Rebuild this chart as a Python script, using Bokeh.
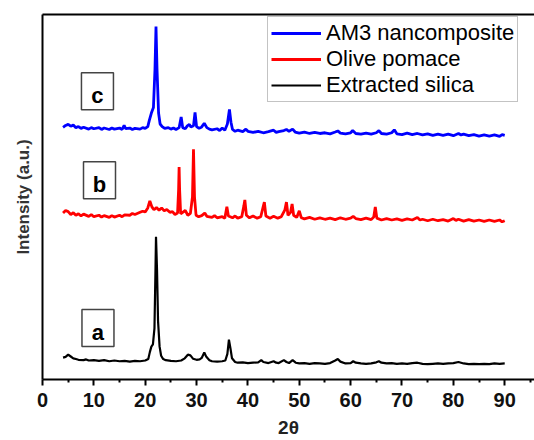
from bokeh.plotting import figure
from bokeh.models import Range1d, LinearAxis, FixedTicker, Legend, LegendItem, ColumnDataSource
from bokeh.core.properties import value
from bokeh.embed import file_html
from bokeh.resources import INLINE

# ---- data ----
silica_x = [4.0, 4.5, 5.0, 5.5, 6.0, 6.5, 7.0, 8.0, 8.5, 9.0, 10.0, 11.0, 12.0, 13.0, 14.0, 15.0, 16.0, 17.0,
            18.0, 19.0, 20.0, 20.6, 20.9, 21.2, 21.5, 21.8, 22.0, 22.1, 22.3, 22.5, 22.8, 23.1, 23.5, 24.0,
            25.0, 26.0, 27.0, 27.7, 28.3, 28.8, 29.3, 30.0, 30.6, 31.0, 31.5, 31.9, 32.5, 33.0, 34.0, 35.0,
            35.6, 36.0, 36.3, 36.6, 36.9, 37.5, 38.0, 39.0, 40.0, 41.0, 42.0, 42.6, 43.0, 44.0, 45.0, 45.5,
            46.0, 47.0, 47.5, 48.0, 48.7, 49.3, 50.0, 51.0, 52.0, 53.0, 54.0, 55.0, 56.0, 57.0, 57.5, 58.0,
            59.0, 60.0, 60.5, 61.0, 62.0, 63.0, 64.0, 65.0, 65.5, 66.0, 67.0, 68.0, 69.0, 70.0, 71.0, 72.0,
            73.0, 74.0, 75.0, 76.0, 77.0, 78.0, 79.0, 80.0, 81.0, 82.0, 83.0, 84.0, 85.0, 86.0, 87.0, 88.0,
            89.0, 90.0]
silica_y = [6.0, 6.2, 6.8, 6.3, 5.8, 5.6, 5.4, 5.3, 5.5, 5.2, 5.3, 5.1, 5.3, 5.0, 5.2, 5.0, 5.1, 4.9,
            5.1, 5.0, 5.2, 5.6, 7.5, 9.0, 9.6, 14.0, 30.0, 39.1, 30.0, 16.0, 9.0, 6.5, 5.6, 5.3,
            5.1, 5.0, 5.2, 5.8, 6.8, 6.6, 5.7, 5.4, 5.5, 5.9, 7.4, 6.2, 5.3, 5.0, 4.9, 5.0,
            5.2, 7.0, 10.9, 8.5, 5.8, 4.8, 4.6, 4.7, 4.5, 4.6, 4.7, 5.3, 4.8, 4.5, 5.0, 4.6,
            4.5, 5.3, 4.8, 4.5, 5.3, 4.6, 4.4, 4.5, 4.3, 4.5, 4.4, 4.3, 4.5, 5.2, 5.6, 4.9,
            4.4, 4.5, 5.0, 4.6, 4.4, 4.3, 4.4, 4.7, 5.0, 4.6, 4.4, 4.5, 4.3, 4.4, 4.3, 4.5,
            4.6, 4.3, 4.2, 4.3, 4.4, 4.3, 4.4, 4.5, 4.8, 4.4, 4.2, 4.3, 4.2, 4.3, 4.2, 4.4,
            4.3, 4.4]

olive_x = [4.0, 4.5, 5.0, 5.5, 6.0, 6.5, 7.0, 7.5, 8.0, 9.0, 9.5, 10.0, 11.0, 11.5, 12.0, 13.0, 13.5, 14.0,
           15.0, 15.5, 16.0, 17.0, 17.5, 18.0, 19.0, 19.5, 20.0, 20.5, 20.9, 21.3, 21.7, 22.2, 22.7, 23.2,
           23.7, 24.2, 24.8, 25.3, 25.8, 26.3, 26.5, 26.6, 26.7, 26.9, 27.3, 27.8, 28.3, 28.8, 29.2, 29.4,
           29.6, 29.9, 30.4, 31.0, 31.6, 32.0, 33.0, 33.5, 34.0, 35.0, 35.5, 35.9, 36.2, 37.0, 37.5, 38.0,
           38.8, 39.2, 39.4, 39.7, 40.3, 41.0, 41.8, 42.5, 43.0, 43.2, 43.5, 44.3, 45.0, 45.8, 46.5, 47.2,
           47.5, 47.8, 48.3, 48.6, 48.9, 49.5, 50.0, 50.4, 51.0, 52.0, 53.0, 54.0, 55.0, 56.0, 57.0, 58.0,
           59.0, 60.0, 60.5, 61.0, 62.0, 63.0, 64.0, 64.5, 64.8, 65.1, 66.0, 67.0, 68.0, 69.0, 70.0, 71.0,
           72.0, 73.0, 73.5, 74.0, 75.0, 76.0, 77.0, 78.0, 79.0, 80.0, 80.5, 81.0, 82.0, 83.0, 84.0, 85.0,
           86.0, 87.0, 88.0, 89.0, 89.5, 90.0]
olive_y = [45.6, 46.3, 46.0, 45.2, 45.7, 45.0, 45.4, 44.8, 45.3, 44.7, 45.2, 44.6, 45.0, 44.5, 44.9, 44.4, 44.9, 44.5,
           45.0, 44.6, 45.1, 45.0, 45.5, 45.2, 45.8, 46.1, 45.9, 47.0, 48.9, 47.3, 46.5, 47.1, 46.4, 47.0,
           46.2, 46.6, 45.8, 46.0, 45.2, 45.6, 52.0, 58.2, 52.0, 45.4, 45.8, 46.3, 45.0, 45.5, 50.0, 63.1,
           50.0, 45.0, 44.6, 44.9, 45.6, 44.7, 44.4, 44.9, 44.3, 44.6, 44.2, 47.3, 44.8, 44.3, 44.8, 44.2,
           44.6, 47.5, 49.2, 45.0, 44.3, 44.8, 44.2, 44.6, 47.5, 48.6, 44.8, 44.2, 44.7, 44.2, 44.6, 46.5,
           48.6, 45.0, 45.8, 48.1, 45.0, 44.4, 46.2, 44.3, 44.0, 44.4, 43.9, 44.3, 43.9, 44.2, 43.8, 44.3,
           43.9, 44.2, 44.7, 44.1, 43.8, 44.2, 43.8, 44.5, 47.3, 44.2, 43.7, 44.1, 43.7, 44.0, 43.6, 44.0,
           43.7, 44.4, 43.7, 43.9, 43.5, 43.9, 43.5, 43.8, 43.4, 44.1, 43.6, 43.9, 43.4, 43.8, 43.4, 43.7,
           43.3, 43.7, 43.3, 43.7, 43.2, 43.5]

am3_x = [4.0, 4.5, 5.0, 5.5, 6.0, 6.5, 7.0, 7.5, 8.0, 9.0, 9.5, 10.0, 11.0, 11.5, 12.0, 13.0, 13.5, 14.0,
         15.0, 15.5, 15.9, 16.2, 17.0, 17.5, 18.0, 19.0, 19.5, 20.0, 20.5, 20.8, 21.2, 21.6, 21.9, 22.1,
         22.3, 22.6, 22.9, 23.3, 23.8, 24.5, 25.0, 25.5, 26.0, 26.6, 27.0, 27.3, 27.8, 28.2, 28.6, 28.9,
         29.4, 29.7, 30.0, 30.5, 31.0, 31.5, 32.0, 32.5, 33.0, 34.0, 34.5, 35.0, 35.5, 36.0, 36.4, 36.7,
         37.0, 37.5, 38.0, 39.0, 39.6, 40.0, 41.0, 42.0, 43.0, 44.0, 45.0, 45.5, 46.0, 47.0, 47.5, 48.0,
         48.7, 49.2, 50.0, 51.0, 52.0, 53.0, 54.0, 55.0, 56.0, 57.0, 57.5, 58.0, 59.0, 60.0, 60.4, 61.0,
         62.0, 63.0, 64.0, 65.0, 65.5, 66.0, 67.0, 68.0, 68.5, 69.0, 70.0, 71.0, 72.0, 73.0, 74.0, 75.0,
         76.0, 77.0, 78.0, 79.0, 80.0, 81.0, 81.5, 82.0, 83.0, 84.0, 85.0, 86.0, 87.0, 88.0, 89.0, 89.5,
         90.0]
am3_y = [69.1, 69.6, 69.9, 69.4, 69.7, 69.0, 69.3, 68.8, 69.1, 68.6, 69.0, 68.7, 69.0, 68.5, 68.9, 68.5, 68.9, 68.6,
         68.9, 68.5, 69.6, 68.7, 68.9, 68.5, 68.8, 68.6, 69.0, 68.8, 69.3, 71.0, 73.0, 74.5, 85.0, 96.7,
         85.0, 73.0, 70.0, 69.3, 68.8, 69.0, 68.6, 68.9, 68.5, 69.0, 71.9, 69.0, 68.7, 69.5, 69.9, 69.2,
         69.5, 73.2, 69.3, 68.8, 69.2, 70.2, 69.0, 68.6, 68.4, 68.7, 68.2, 68.9, 68.3, 70.0, 74.0, 70.5,
         68.5, 68.0, 68.3, 67.9, 68.6, 68.0, 67.7, 68.0, 67.6, 67.9, 68.3, 67.7, 67.9, 68.2, 68.5, 68.0,
         68.6, 67.8, 67.5, 67.8, 67.4, 67.7, 67.4, 67.6, 67.3, 67.8, 68.1, 67.5, 67.3, 67.6, 68.2, 67.4,
         67.2, 67.5, 67.2, 67.6, 68.2, 67.4, 67.2, 67.6, 68.4, 67.3, 67.1, 67.5, 67.1, 67.4, 67.0, 67.3,
         66.9, 67.2, 66.9, 67.2, 66.8, 67.4, 67.0, 67.2, 66.8, 67.1, 66.7, 67.0, 66.7, 67.0, 66.6, 67.1,
         66.9]

series_names = ["AM3 nancomposite", "Olive pomace", "Extracted silica"]
series_colors = ["#0000ff", "#ff0000", "#000000"]

panel_letters = ["c", "b", "a"]
panel_x = [10.7, 11.1, 10.8]
panel_y = [79.0, 54.6, 14.1]

x_ticks = [0, 10, 20, 30, 40, 50, 60, 70, 80, 90]

# ---- figure ----
p = figure(width=534, height=440, output_backend="svg", toolbar_location=None,
           x_range=Range1d(0, 95.8), y_range=Range1d(0, 100),
           min_border_left=42, min_border_right=0, min_border_top=14, min_border_bottom=60,
           background_fill_color="white", border_fill_color="white")
p.outline_line_color = None
p.xgrid.visible = False
p.ygrid.visible = False

# x axis
xa = p.xaxis[0]
xa.ticker = FixedTicker(ticks=x_ticks, minor_ticks=[5, 15, 25, 35, 45, 55, 65, 75, 85, 95])
xa.axis_label = "2θ"
xa.axis_label_text_font = "Liberation Sans"
xa.axis_label_text_font_style = "bold"
xa.axis_label_text_font_size = "19px"
xa.axis_label_text_color = "#222222"
xa.axis_label_standoff = 7
xa.major_label_text_font = "Liberation Sans"
xa.major_label_text_font_style = "bold"
xa.major_label_text_font_size = "20px"
xa.major_label_text_color = "#111111"
xa.major_label_standoff = 7
xa.axis_line_width = 2
xa.major_tick_line_width = 2
xa.minor_tick_line_width = 2
xa.major_tick_out = 6
xa.major_tick_in = 0
xa.minor_tick_out = 3
xa.minor_tick_in = 0

# y axis
ya = p.yaxis[0]
ya.ticker = FixedTicker(ticks=[])
ya.axis_label = "Intensity (a.u.)"
ya.axis_label_text_font = "Liberation Sans"
ya.axis_label_text_font_style = "bold"
ya.axis_label_text_font_size = "17px"
ya.axis_label_text_color = "#333333"
ya.axis_label_standoff = 10
ya.major_label_text_font_size = "0px"
ya.axis_line_width = 2
ya.major_tick_out = 0
ya.minor_tick_out = 0

# top border line
top_axis = LinearAxis(ticker=FixedTicker(ticks=[]), major_label_text_font_size="0px",
                      major_tick_out=0, minor_tick_out=0, axis_line_width=2)
p.add_layout(top_axis, "above")

# ---- curves ----
r_am3 = p.line(am3_x, am3_y, line_color=series_colors[0], line_width=2.8)
r_olive = p.line(olive_x, olive_y, line_color=series_colors[1], line_width=2.8)
r_silica = p.line(silica_x, silica_y, line_color=series_colors[2], line_width=2.2)

# ---- panel letters ----
src = ColumnDataSource(dict(x=panel_x, y=panel_y, t=panel_letters))
p.rect(x="x", y="y", width=32, height=37, width_units="screen", height_units="screen",
       source=src, fill_color=None, line_color="#444444", line_width=1.5)
p.text(x="x", y="y", text="t", source=src, text_font=value("Liberation Sans"),
       text_font_style="bold", text_font_size="22px", text_align="center",
       text_baseline="alphabetic", y_offset=4, text_color="#000000")

# ---- legend ----
legend = Legend(items=[LegendItem(label=series_names[0], renderers=[r_am3]),
                       LegendItem(label=series_names[1], renderers=[r_olive]),
                       LegendItem(label=series_names[2], renderers=[r_silica])],
                location=(225, 277))
legend.label_text_font = "Liberation Sans"
legend.label_text_font_size = "22px"
legend.label_text_color = "#000000"
legend.glyph_width = 50
legend.glyph_height = 26
legend.label_height = 26
legend.label_standoff = 5
legend.padding = 3
legend.spacing = 0
legend.margin = 0
legend.border_line_color = "#888888"
legend.border_line_width = 1
legend.background_fill_color = "white"
legend.background_fill_alpha = 1.0
p.add_layout(legend)

open("out.html", "w").write(file_html(p, INLINE))
